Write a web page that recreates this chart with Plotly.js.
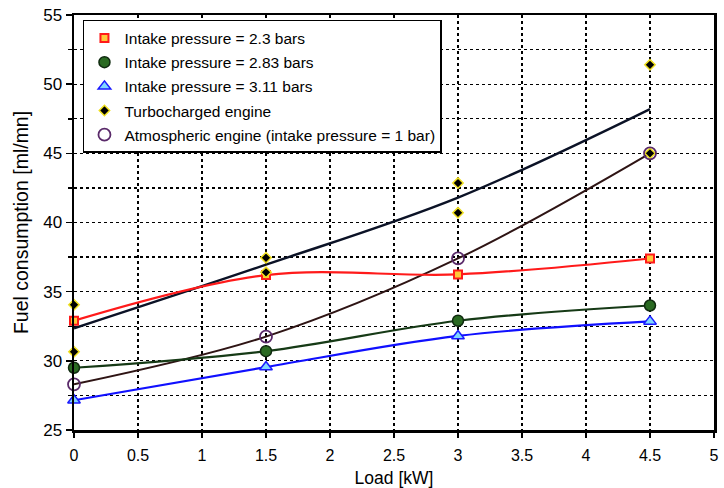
<!DOCTYPE html>
<html>
<head>
<meta charset="utf-8">
<script src="https://cdn.plot.ly/plotly-3.0.1.min.js"></script>
<style>html,body{margin:0;padding:0;background:#fff;}#chart{width:724px;height:488px;}</style>
</head>
<body>
<div id="chart"></div>
<script>
// Load values [kW]
const loads = [0, 1.5, 3, 4.5];
// Fuel consumption [ml/mn]
const p230 = [32.9, 36.2, 36.25, 37.4];
const p283 = [29.5, 30.7, 32.9, 34.0];
const p311 = [27.15, 29.55, 31.8, 32.85];
const atmo = [28.3, 31.75, 37.4, 45.0];
// Turbocharged engine measurements (two runs per load)
const turboX = [0, 0, 1.5, 1.5, 3, 3, 4.5, 4.5];
const turboY = [34.05, 30.65, 37.45, 36.4, 42.85, 40.7, 51.4, 45.0];
// Turbocharged engine mean curve
const turboMean = [32.35, 36.95, 41.8, 48.2];

const names = [
  'Intake pressure = 2.3 bars',
  'Intake pressure = 2.83 bars',
  'Intake pressure = 3.11 bars',
  'Turbocharged engine',
  'Atmospheric engine (intake pressure = 1 bar)'
];

function line(y, color, w) {
  return {x: loads, y: y, mode: 'lines', line: {color: color, width: w || 2, shape: 'spline', smoothing: 1},
          showlegend: false, hoverinfo: 'skip'};
}
const traces = [
  line(turboMean, '#0b1226', 2.4),
  line(atmo, '#2e1414', 2),
  line(p230, '#ff1a1a', 2.2),
  line(p283, '#163a16', 2.2),
  line(p311, '#1010ff', 2.2),
  {x: loads, y: p230, name: names[0], mode: 'markers', legendgroup: 'a', cliponaxis: false,
   marker: {symbol: 'square', size: 8, color: '#ffc83a', line: {color: '#ff1a1a', width: 2}}},
  {x: loads, y: p283, name: names[1], mode: 'markers', legendgroup: 'b', cliponaxis: false,
   marker: {symbol: 'circle', size: 11, color: '#2a6a22', line: {color: '#0f2a0f', width: 1.5}}},
  {x: loads, y: p311, name: names[2], mode: 'markers', legendgroup: 'c', cliponaxis: false,
   marker: {symbol: 'triangle-up', size: 11, color: '#7fd6ff', line: {color: '#1a1aff', width: 1.5}}},
  {x: turboX, y: turboY, name: names[3], mode: 'markers', legendgroup: 'd', cliponaxis: false,
   marker: {symbol: 'diamond', size: 8, color: '#000000', line: {color: '#f0e020', width: 1.5}}},
  {x: loads, y: atmo, name: names[4], mode: 'markers', legendgroup: 'e', cliponaxis: false,
   marker: {symbol: 'circle-open', size: 12, color: '#5a2a6a', line: {color: '#5a2a6a', width: 1.8}}}
];

const fam = 'Liberation Sans, Arial, sans-serif';
const grid = {gridcolor: '#000', gridwidth: 1.3, griddash: '3px,3px'};
const layout = {
  width: 724, height: 488,
  margin: {l: 74, r: 10, t: 15, b: 58},
  paper_bgcolor: '#fff', plot_bgcolor: '#fff',
  font: {family: fam, size: 16, color: '#000'},
  showlegend: true,
  legend: {x: 0.014, y: 0.988, xanchor: 'left', yanchor: 'top', bgcolor: '#fff',
           bordercolor: '#000', borderwidth: 1.5, font: {family: fam, size: 15.5, color: '#000'},
           traceorder: 'grouped', tracegroupgap: 1, itemwidth: 30},
  xaxis: Object.assign({range: [0, 5], dtick: 0.5, tick0: 0, showgrid: true, zeroline: false,
          showline: true, linecolor: '#000', linewidth: 2.5, mirror: true,
          ticks: 'outside', ticklen: 5, tickwidth: 1.5, tickcolor: '#000', ticklabelstandoff: 4,
          tickfont: {family: fam, size: 16, color: '#000'},
          title: {text: 'Load [kW]', font: {family: fam, size: 17.5, color: '#000'}, standoff: 10}}, grid),
  yaxis: Object.assign({range: [25, 55], dtick: 5, tick0: 25, showgrid: true, zeroline: false,
          showline: true, linecolor: '#000', linewidth: 2.5, mirror: true,
          ticks: 'outside', ticklen: 6, tickwidth: 1.5, tickcolor: '#000',
          tickfont: {family: fam, size: 17, color: '#000'},
          minor: Object.assign({dtick: 2.5, tick0: 25, showgrid: true,
                  ticks: 'outside', ticklen: 4, tickwidth: 1.5, tickcolor: '#000'}, grid),
          title: {text: 'Fuel consumption [ml/mn]', font: {family: fam, size: 19.5, color: '#000'}, standoff: 10}}, grid)
};
Plotly.newPlot('chart', traces, layout, {displayModeBar: false, staticPlot: true});
</script>
</body>
</html>
